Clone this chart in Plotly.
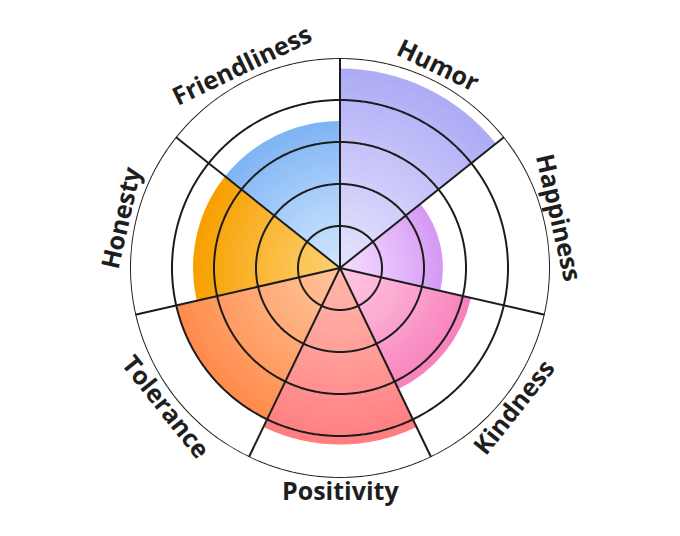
import math
import plotly.graph_objects as go

categories = ["Humor", "Happiness", "Kindness", "Positivity", "Tolerance", "Honesty", "Friendliness"]
values = [4.75, 2.45, 3.2, 4.2, 4.0, 3.5, 3.5]
outer_colors = ["#aeacf5", "#d69af5", "#f882bc", "#ff7e82", "#ff8c4c", "#f7a000", "#7fb4f5"]
inner_colors = ["#e4e2fd", "#f3dcff", "#ffc8e0", "#ffb8aa", "#ffc49a", "#fdd070", "#cfe5ff"]
ring_values = [1, 2, 3, 4, 5]

W, H = 680, 536
R_PX = 210
# page body has an 8px margin; place the chart centre so it lands at (340, 268)
CX = 340 - 8
CY = 268 - 8  # from top
n = len(categories)
step = 360.0 / n
thetas = [step / 2 + i * step for i in range(n)]


def hex2rgb(h):
    h = h.lstrip("#")
    return tuple(int(h[i:i + 2], 16) for i in (0, 2, 4))


def mix(c1, c2, t):
    a, b = hex2rgb(c1), hex2rgb(c2)
    return "rgb(%d,%d,%d)" % tuple(round(a[k] + (b[k] - a[k]) * t) for k in range(3))


fig = go.Figure()

N = 24
for s in range(N, 0, -1):
    f = s / N
    fig.add_trace(go.Barpolar(
        r=[v * f for v in values],
        theta=thetas,
        width=[step] * n,
        marker=dict(color=[mix(inner_colors[i], outer_colors[i], f ** 1.2) for i in range(n)],
                    line=dict(width=0)),
        hoverinfo="skip",
        showlegend=False,
    ))

line_color = "#1c1c1c"
circle_theta = [i * 0.5 for i in range(721)]
for rv in ring_values:
    fig.add_trace(go.Scatterpolar(
        r=[rv] * len(circle_theta), theta=circle_theta, mode="lines",
        line=dict(color=line_color, width=2), hoverinfo="skip", showlegend=False))
for i in range(n):
    fig.add_trace(go.Scatterpolar(
        r=[0, ring_values[-1]], theta=[i * step, i * step], mode="lines",
        line=dict(color=line_color, width=2), hoverinfo="skip", showlegend=False))

annotations = []
for i, name in enumerate(categories):
    a = thetas[i]
    rad = math.radians(a)
    if 90 < a < 270:
        ang = a - 180
        label_r = 222
    else:
        ang = a if a <= 180 else a - 360
        label_r = 226
    x = (CX + label_r * math.sin(rad)) / W
    y = 1 - (CY - label_r * math.cos(rad)) / H
    annotations.append(dict(
        x=x, y=y, xref="paper", yref="paper", text=name, showarrow=False,
        textangle=ang, xanchor="center", yanchor="middle",
        font=dict(family="Open Sans", size=25, color="#1e1e1e", weight=700)))

fig.update_layout(
    width=W, height=H,
    margin=dict(l=0, r=0, t=0, b=0),
    paper_bgcolor="white",
    plot_bgcolor="white",
    showlegend=False,
    annotations=annotations,
    polar=dict(
        domain=dict(x=[(CX - R_PX) / W, (CX + R_PX) / W],
                    y=[1 - (CY + R_PX) / H, 1 - (CY - R_PX) / H]),
        bgcolor="white",
        barmode="overlay",
        bargap=0,
        radialaxis=dict(range=[0, 5], visible=False, showgrid=False),
        angularaxis=dict(direction="clockwise", rotation=90, showgrid=False,
                         showticklabels=False, showline=False, ticks=""),
    ),
)

fig.write_html("out.html")
